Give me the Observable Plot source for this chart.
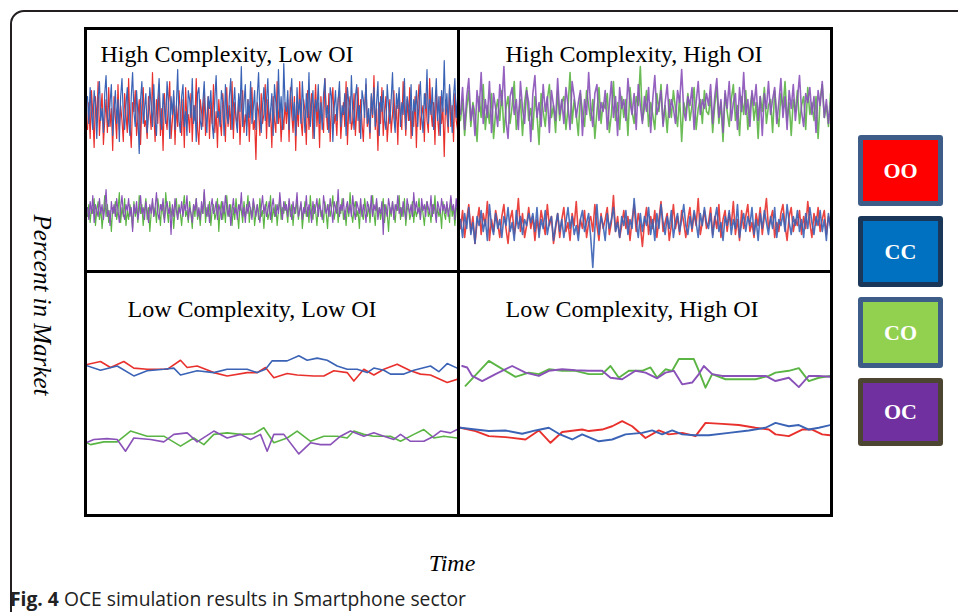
<!DOCTYPE html>
<html>
<head>
<meta charset="utf-8">
<script src="https://cdn.jsdelivr.net/npm/d3@7"></script>
<script src="https://cdn.jsdelivr.net/npm/@observablehq/plot@0.6"></script>
<style>
  html, body { margin: 0; padding: 0; background: #fff; }
  #root { position: relative; width: 958px; height: 612px; overflow: hidden; background: #fff; }
  .abs { position: absolute; }
  .frame { left: 10px; top: 10px; width: 1000px; height: 700px; border: 2px solid #231f20; border-radius: 14px; box-sizing: border-box; }
  .outer { left: 84px; top: 27px; width: 749px; height: 490px; border: 3px solid #000; box-sizing: border-box; }
  .vline { left: 457px; top: 27px; width: 3px; height: 490px; background: #000; }
  .hline { left: 84px; top: 270px; width: 749px; height: 3px; background: #000; }
  .ylab { left: 42px; top: 305px; transform: translate(-50%, -50%) rotate(90deg); font: italic 25px "Liberation Serif", "Times New Roman", serif; white-space: nowrap; color: #000; }
  .xlab { left: 452px; top: 550px; transform: translateX(-50%); font: italic 24px "Liberation Serif", "Times New Roman", serif; color: #000; }
  .caption { left: 10px; top: 585px; font: 19.3px "Open Sans", "Noto Sans", sans-serif; color: #222; white-space: nowrap; }
  .caption b { font-weight: 700; }
  .legbox { box-sizing: border-box; border-width: 5px; border-style: solid; border-radius: 3px; display: flex; align-items: center; justify-content: center; color: #fff; font: bold 22px "Liberation Serif", "Times New Roman", serif; }
</style>
</head>
<body>
<div id="root">
  <div class="abs frame"></div>
  <div class="abs ylab">Percent in Market</div>
  <div class="abs outer"></div>
  <div id="tl" class="abs" style="left:87px;top:30px;"></div>
  <div id="tr" class="abs" style="left:460px;top:30px;"></div>
  <div id="bl" class="abs" style="left:87px;top:273px;"></div>
  <div id="br" class="abs" style="left:460px;top:273px;"></div>
  <div class="abs vline"></div>
  <div class="abs hline"></div>
  <div class="abs xlab">Time</div>
  <div class="abs caption"><b>Fig. 4</b> OCE simulation results in Smartphone sector</div>
</div>
<script>
// ---------------- data ----------------
const seriesNames = ["OO", "CC", "CO", "OC"];
const legendFills = ["#FF0000", "#0070C0", "#92D050", "#7030A0"];
const legendBorders = ["#3D5D88", "#1A3658", "#3D5D88", "#4B4531"];
const lineColors = ["#E8302C", "#3A62B5", "#5BB544", "#8A52B8"];
const panelTitles = ["High Complexity, Low OI", "High Complexity, High OI", "Low Complexity, Low OI", "Low Complexity, High OI"];

// High complexity, low OI (evenly spaced time steps)
const hlOO = [47,56,44,60,52,41,58,49,63,45, 53,59,42,50,57,46,61,48,54,40, 58,51,44,62,47,55,50,43,59,52, 46,64,49,41,56,53,60,45,51,57, 42,55,61,48,50,44,58,53,47,66,
  52,43,57,49,62,45,54,40,59,51, 47,56,63,44,50,58,42,55,48,60, 53,45,57,41,61,49,52,46,59,43, 55,50,64,47,42,57,53,48,60,45, 51,58,44,56,49,62,46,53,41,57,
  50,45,59,52,43,61,48,55,47,63, 44,56,51,49,58,42,54,60,46,52, 48,57,43,55,61,47,50,37,56,53, 45,59,49,52,62,44,57,48,54,41, 58,50,46,63,49,55,43,52,47,56,
  49,57,43,61,52,46,58,40,55,48, 63,50,45,57,53,42,60,47,54,59, 44,52,62,48,56,41,58,50,46,64, 53,47,59,43,55,61,49,52,45,57,
  60,44,51,56,48,63,42,54,58,47, 50,59,45,53,61,46,57,49,43,55, 62,48,52,44,58,51,65,47,54,40, 56,49,61,45,53,58,43,50,57,46,
  52,60,48,55,42,59,51,47,63,54, 45,57,50,61,44,53,48,58,41,56, 62,47,52,55,43,59,50,46,64,53, 48,56,42,60,51,45,58,49,54,38,
  57,52,46,61,48,55,43,59,50,47];
const hlCC = [58,49,61,52,47,60,55,44,57,63, 50,54,46,59,65,51,48,56,62,45, 53,60,49,57,43,58,64,52,47,55, 61,50,45,58,66,53,48,60,52,39, 57,63,49,54,59,46,52,61,55,48,
  62,50,45,57,64,51,47,59,54,49, 63,56,44,58,52,60,47,55,67,50, 46,58,62,48,53,45,60,57,51,64, 49,55,43,59,61,50,47,56,63,52, 46,58,54,60,49,44,57,65,51,53,
  48,60,56,45,62,52,49,58,64,47, 55,61,50,46,59,53,68,48,56,62, 45,57,51,63,49,54,60,47,58,66, 52,46,55,61,50,57,64,48,53,59, 45,62,56,49,67,51,58,47,69,55,
  53,60,47,58,64,50,56,45,61,52, 57,49,63,54,46,59,51,66,48,55, 60,44,57,53,62,49,56,47,59,64, 51,55,46,61,58,43,54,60,50,57,
  63,48,55,52,59,45,61,56,49,65, 53,47,58,62,50,55,44,60,57,51, 64,49,54,46,59,52,61,48,56,63, 45,58,53,60,50,47,62,55,49,57,
  66,51,46,59,54,61,48,56,52,64, 47,58,55,50,62,45,57,53,60,48, 56,63,51,46,59,54,67,49,57,52, 61,47,55,64,50,58,45,60,53,70,
  52,59,48,62,55,46,58,64,51,57];
const hlCO = [18,22,16,21,19,24,15,20,23,17, 21,14,19,25,18,22,16,20,13,21, 19,23,17,20,26,16,21,18,24,15, 20,17,22,19,14,23,18,21,16,25, 19,22,15,20,24,17,21,13,19,23,
  18,21,16,24,20,15,22,19,17,26, 20,16,23,18,21,14,20,24,17,22, 19,15,21,25,18,20,16,23,19,14, 22,18,24,17,20,15,21,19,26,16, 21,18,23,15,20,22,17,19,24,13,
  20,23,17,21,16,25,19,18,22,15, 21,17,24,19,14,22,20,16,23,18, 20,25,16,21,18,23,15,19,22,17, 24,18,20,14,21,23,17,19,25,16, 21,18,22,15,20,24,17,21,19,23,
  20,16,23,18,22,15,21,19,24,17, 20,22,14,19,23,18,21,16,25,19, 17,22,20,15,21,24,18,20,16,23, 19,14,22,18,21,25,17,20,23,16,
  21,19,24,17,20,15,22,18,26,19, 16,21,23,18,20,14,22,19,17,24, 20,18,22,16,21,25,19,15,23,18, 21,17,20,24,16,22,19,13,21,18,
  23,19,16,22,20,25,17,21,18,24, 15,20,22,17,19,23,16,21,18,20, 24,17,22,19,15,21,23,18,20,16, 22,19,25,17,21,18,20,14,23,19,
  17,22,20,16,24,18,21,15,20,22];
const hlOC = [21,17,23,19,25,16,22,20,18,24, 19,22,17,21,27,18,20,15,23,19, 22,18,24,20,16,21,25,19,17,22, 20,24,18,21,13,22,19,23,17,20, 25,19,21,17,23,20,16,22,19,24,
  18,21,26,19,17,22,20,24,16,21, 23,19,21,12,22,18,24,20,17,21, 19,23,18,22,20,25,17,21,19,16, 22,20,24,18,21,17,23,19,27,20, 18,22,16,21,24,19,20,23,17,22,
  20,17,23,19,25,21,18,22,15,20, 24,19,21,17,22,20,26,18,21,16, 22,19,23,20,17,24,21,18,22,19, 16,21,25,19,22,18,20,23,17,21, 24,20,18,22,19,26,21,17,23,20,
  22,18,24,20,17,23,19,21,26,18, 20,23,17,21,19,25,18,22,20,16, 23,19,21,24,18,22,20,17,25,21, 19,22,18,24,20,16,23,21,19,27,
  18,22,20,24,17,21,23,19,22,18, 25,20,17,23,21,19,24,18,22,20, 16,23,21,19,25,18,22,20,24,17, 21,19,23,12,22,20,18,24,21,19,
  23,17,22,20,25,19,21,18,23,20, 17,24,21,19,22,18,26,20,23,19, 21,17,24,20,22,18,23,21,19,25, 18,22,20,16,23,21,19,24,20,22,
  19,23,18,21,25,20,22,17,24,20];

// High complexity, high OI
const hhOO = [14,20,11,17,22,13,18,9,16,21, 12,19,15,23,10,17,13,20,16,11, 18,22,14,9,17,20,12,16,24,13, 19,11,15,21,14,18,10,17,13,20, 16,12,22,15,18,9,14,19,11,17,
  21,13,16,10,19,15,23,12,17,14, 20,11,16,18,13,22,15,10,19,14, 17,21,12,16,25,13,18,11,15,20, 14,18,10,17,22,13,19,15,8,16, 21,12,18,14,20,11,17,23,13,16,
  19,10,15,22,14,18,12,20,16,11, 17,21,13,19,15,24,12,16,20,14,
  16,21,12,18,14,22,11,17,20,13, 19,15,23,12,17,10,20,14,18,22, 13,16,11,19,15,21,12,18,24,14, 17,20,11,16,13,19,22,15,10,18,
  21,13,17,15,20,12,18,14,23,16, 11,19,15,21,13,17,20,12,18,15];
const hhCC = [17,11,19,14,21,12,16,9,18,15, 20,13,17,10,22,15,12,19,14,17, 11,18,15,21,13,16,10,20,14,18, 12,17,15,19,16,19,13,21,11,17, 14,20,12,16,18,10,15,19,13,17,
  11,16,21,14,18,12,15,10,17,20, 13,16,19,11,1,14,22,12,18,15, 10,19,14,17,21,13,16,11,18,15, 20,12,17,14,24,16,11,19,13,18, 15,21,12,17,10,19,14,22,16,12,
  18,14,20,11,16,19,13,17,22,15, 12,18,14,20,16,11,19,15,21,16,
  14,19,11,17,21,13,16,10,18,15, 20,12,17,14,22,11,16,19,13,18, 15,21,12,17,10,19,14,20,16,12, 18,14,21,11,17,15,19,13,22,16,
  12,18,15,20,13,17,11,19,14,21, 16,12,18,15,20,13,17,10,19,14];
const hhCO = [50,57,45,54,60,48,56,52,43,58, 51,62,47,55,49,59,44,53,57,50, 60,46,54,58,49,55,63,47,52,57, 45,56,61,50,54,47,58,52,42,59, 53,48,57,62,51,55,46,60,50,56,
  58,47,54,66,49,57,52,45,59,53, 48,60,55,50,57,44,53,61,49,56, 54,59,46,52,63,50,56,47,58,51, 57,45,61,53,49,58,55,68,50,54, 60,48,56,52,47,59,53,62,49,55,
  46,57,51,60,54,48,58,43,56,52, 59,50,55,61,47,54,57,49,60,53,
  52,58,46,55,61,49,56,43,59,53, 48,57,62,50,55,45,58,52,60,47, 54,59,50,56,44,58,53,61,49,55, 57,46,60,52,48,59,54,63,50,56,
  45,57,53,60,49,55,58,47,61,52, 56,50,58,44,57,62,51,55,48,59];
const hhOC = [52,61,47,58,64,50,55,45,60,53, 66,49,57,51,63,46,59,54,48,62, 55,68,50,44,58,61,52,57,47,63, 54,49,60,56,43,59,65,51,56,48, 62,53,58,46,60,55,50,64,52,57,
  49,61,55,47,63,58,51,56,60,45, 57,52,66,54,48,59,62,50,56,53, 60,47,55,63,51,58,45,61,54,57, 50,64,56,52,59,47,62,55,49,58, 53,61,46,57,65,52,55,60,48,56,
  62,51,57,54,49,60,56,67,53,50, 58,55,61,47,56,63,52,57,54,59,
  55,62,49,58,64,51,57,46,60,54, 63,50,56,59,47,61,53,66,52,57, 48,60,55,62,50,58,45,59,54,63, 52,57,61,49,56,64,51,58,47,60,
  54,62,50,57,65,53,48,59,56,61, 52,58,46,60,55,63,51,57,49,56];

// Low complexity, low OI: [time, percent]
const llOO = [[0,49.3],[6,50.8],[9,48.8],[13,50.8],[16,48.6],[20,48.2],[26,48.2],[30,51.2],[32,48.8],[35,49.3],[40,47.1],[44,46.0],[50,47.1],[53,47.1],[55.5,48.8],[58,45.4],[62,46.8],[65,46.3],[70,46.0],[73,46.0],[76,47.7],[80,47.1],[82,44.3],[85,48.2],[88,46.3],[91,48.2],[95,49.9],[99,47.7],[102,46.6],[105,46.3],[110,43.8],[113,44.9]];
const llCC = [[0,50.1],[6,47.9],[11,49.3],[16,46.0],[20,47.7],[25,48.2],[28,48.6],[30,46.3],[35,47.7],[40,47.1],[44,48.2],[50,48.2],[53,47.1],[55.5,48.2],[57.5,51.0],[62,51.0],[65.5,52.7],[68,51.2],[71,51.9],[74,51.2],[77,49.3],[80,48.2],[83,48.2],[86,47.1],[88,48.6],[91,47.9],[93,46.6],[97,46.6],[100,47.9],[105,49.3],[107.5,47.4],[110,50.1],[113,48.6]];
const llCO = [[0,24.9],[3,23.2],[7,24.1],[11,24.1],[15,27.7],[20,26.0],[25,26.0],[30,22.7],[34,25.4],[37,23.2],[40,26.6],[44,27.1],[48,26.6],[52,26.8],[55,28.8],[58,23.8],[62,25.4],[65,27.7],[69,24.3],[73,26.0],[77,26.0],[80,25.4],[82,27.7],[85,26.6],[88,26.0],[93,26.0],[96,24.3],[100,26.6],[103,28.2],[106,25.4],[109,26.0],[113,25.4]];
const llOC = [[0,23.0],[4,24.9],[8,25.2],[11,24.9],[13.5,21.0],[16,25.4],[21,24.9],[25,24.1],[28,26.6],[32,27.1],[35,24.1],[40,27.7],[44,25.4],[48,26.6],[51,24.9],[54,26.6],[56,21.0],[58,26.6],[61,26.6],[65.5,20.1],[69,23.8],[72,23.2],[75,23.2],[78,26.0],[81,27.7],[85,26.0],[88,27.1],[91,26.0],[94,24.9],[96,26.6],[99,24.3],[103,24.3],[106,26.0],[108,27.7],[111,27.1],[113,28.2]];

// Low complexity, high OI: [time, percent]
const lhOO = [[1.5,28.8],[6,27.7],[10,26.0],[15,25.7],[21,24.9],[25,27.9],[28.5,23.8],[32,27.4],[38,28.2],[40,27.7],[44,28.2],[47,29.3],[50,31.0],[53,29.3],[57,25.4],[61,27.9],[64,26.6],[68,27.1],[72,26.0],[75,30.4],[80,30.1],[85,29.7],[90,28.8],[94,28.2],[96,26.6],[100,26.0],[104,28.2],[107,28.2],[110,26.6],[112.5,26.3]];
const lhCC = [[1.5,28.8],[6,28.2],[10,27.7],[15,27.9],[20,26.8],[24,27.9],[28,28.8],[31,26.8],[35,24.9],[38,26.6],[43,24.3],[47,24.9],[51,26.6],[56,27.1],[59,27.9],[62,26.6],[65,27.9],[68,26.6],[72,26.3],[76,26.3],[82,27.1],[88,27.9],[93,28.8],[96,30.4],[100,29.3],[103,29.7],[106,28.2],[109,28.8],[112.5,29.7]];
const lhCO = [[3,42.7],[10,51.0],[18,45.7],[22,47.1],[25,46.6],[28,48.2],[32,47.7],[36,47.7],[40,46.6],[44,46.6],[46.5,49.3],[49,45.4],[52,47.7],[56,47.7],[58.5,48.8],[60.5,45.4],[63,48.2],[65,47.7],[67,51.6],[71.5,51.6],[73,47.7],[75,42.1],[77,46.6],[81,44.9],[85,44.9],[90,44.9],[94,46.0],[96,47.1],[100,47.7],[103,48.6],[106,44.3],[109,45.4],[112.5,46.0]];
const lhOC = [[2,49.3],[3.5,48.8],[5,46.0],[8,44.3],[12,46.6],[17,49.3],[21,47.1],[25,46.0],[28,47.7],[32,48.2],[36,47.9],[40,47.7],[44,47.7],[46.5,45.4],[50,44.9],[54,47.7],[57,47.1],[60.5,45.2],[63,47.1],[65.5,47.7],[68,43.2],[71,43.8],[73,46.6],[74.5,49.3],[77,46.6],[80,46.0],[85,46.0],[90,46.0],[93,46.0],[96,44.3],[100,45.4],[103,42.3],[106,46.0],[109,46.0],[112.5,45.7]];

// ---------------- drawing ----------------
const SERIF = '"Liberation Serif", "Times New Roman", serif';

function evenly(values) {
  const n = values.length;
  return values.map((v, i) => ({t: i / (n - 1), v}));
}
function pairs(arr) {
  return arr.map(([t, v]) => ({t, v}));
}

function panel(el, {title, titleDx, titleDy, height, xDomain, series, strokeWidth, opacity}) {
  const marks = [
    Plot.text([title], {frameAnchor: "top-left", dx: titleDx, dy: titleDy, textAnchor: "start", lineAnchor: "bottom",
      fontSize: 24, fontFamily: SERIF, fill: "#000"})
  ];
  for (const s of series) {
    marks.push(Plot.line(s.data, {x: "t", y: "v", stroke: lineColors[s.k], strokeWidth, strokeOpacity: opacity, clip: true, curve: "linear"}));
  }
  const chart = Plot.plot({
    width: 370, height, margin: 0,
    x: {domain: xDomain, axis: null},
    y: {domain: [0, 80], axis: null},
    style: {background: "transparent", overflow: "visible"},
    marks
  });
  document.getElementById(el).appendChild(chart);
}

panel("tl", {title: panelTitles[0], titleDx: 13, titleDy: 31, height: 240, xDomain: [0, 1], strokeWidth: 1.2, opacity: 1,
  series: [{k: 0, data: evenly(hlOO)}, {k: 1, data: evenly(hlCC)}, {k: 2, data: evenly(hlCO)}, {k: 3, data: evenly(hlOC)}]});
panel("tr", {title: panelTitles[1], titleDx: 45, titleDy: 31, height: 240, xDomain: [0, 1], strokeWidth: 1.6, opacity: 0.9,
  series: [{k: 2, data: evenly(hhCO)}, {k: 3, data: evenly(hhOC)}, {k: 0, data: evenly(hhOO)}, {k: 1, data: evenly(hhCC)}]});
panel("bl", {title: panelTitles[2], titleDx: 40, titleDy: 43, height: 241, xDomain: [2.1, 113.1], strokeWidth: 1.6, opacity: 1,
  series: [{k: 0, data: pairs(llOO)}, {k: 1, data: pairs(llCC)}, {k: 2, data: pairs(llCO)}, {k: 3, data: pairs(llOC)}]});
panel("br", {title: panelTitles[3], titleDx: 45, titleDy: 43, height: 241, xDomain: [1.5, 112.5], strokeWidth: 1.9, opacity: 1,
  series: [{k: 0, data: pairs(lhOO)}, {k: 1, data: pairs(lhCC)}, {k: 2, data: pairs(lhCO)}, {k: 3, data: pairs(lhOC)}]});

// legend
const root = document.getElementById("root");
const legTops = [135, 216, 297, 378];
const legHeights = [71, 71, 71, 68];
seriesNames.forEach((name, i) => {
  const d = document.createElement("div");
  d.className = "abs legbox";
  d.style.left = "858px";
  d.style.top = legTops[i] + "px";
  d.style.width = "85px";
  d.style.height = legHeights[i] + "px";
  d.style.background = legendFills[i];
  d.style.borderColor = legendBorders[i];
  d.textContent = name;
  root.appendChild(d);
});
</script>
</body>
</html>
